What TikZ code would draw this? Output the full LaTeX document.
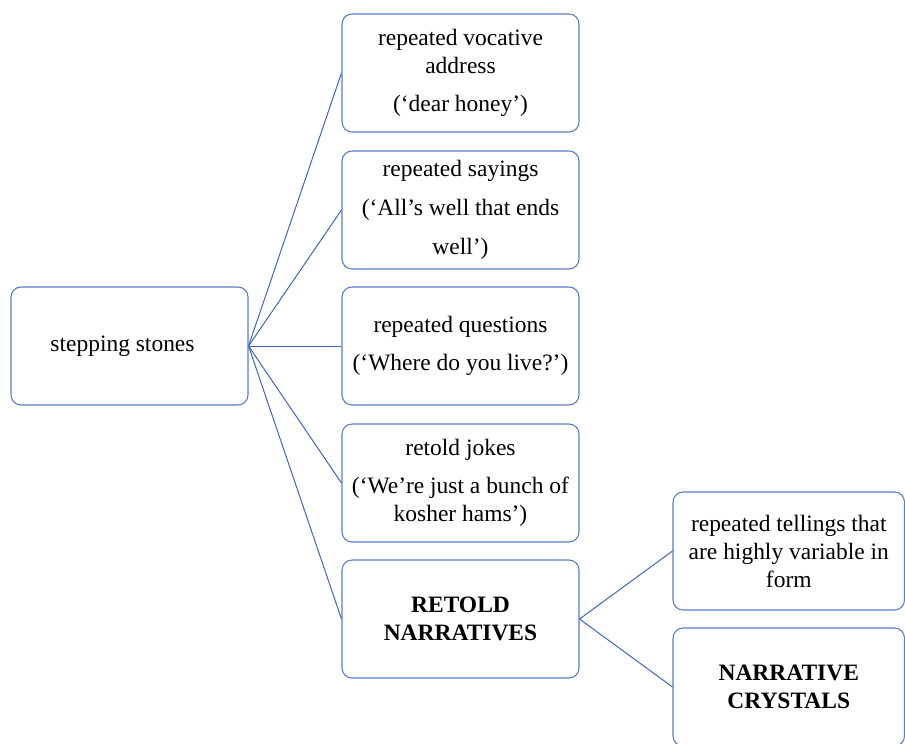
\documentclass[tikz,border=0pt]{standalone}
\usepackage{fontspec}
\setmainfont{Liberation Serif}
\definecolor{boxblue}{HTML}{5A7EC6}
\definecolor{lineblue}{HTML}{3F66B8}
\tikzset{
  box/.style={draw=boxblue, line width=0.8pt, rounded corners=7.5pt,
    minimum width=177.75pt, minimum height=88.5pt, align=center,
    font=\fontsize{17.6}{21}\selectfont, inner sep=0pt},
  rbox/.style={box, minimum width=173.6pt},
  link/.style={draw=lineblue, line width=0.75pt}
}
\begin{document}
\begin{tikzpicture}[x=0.75pt,y=-0.75pt]
\useasboundingbox (0,0) rectangle (905,743);
\clip (0,0) rectangle (905,743);
\node[box] (ss) at (129.5,346) {\raisebox{-3pt}{stepping stones}\hspace*{10.5pt}};
\node[box] (b1) at (460.5,73) {repeated vocative\\address\\[8pt](‘dear honey’)};
\node[box] (b2) at (460.5,210) {repeated sayings\\[8pt](‘All’s well that ends\\[8pt]well’)};
\node[box] (b3) at (460.5,346) {repeated questions\\[8pt](‘Where do you live?’)};
\node[box] (b4) at (460.5,483) {retold jokes\\[8pt](‘We’re just a bunch of\\kosher hams’)};
\node[box] (b5) at (460.5,619) {\textbf{RETOLD}\\\textbf{NARRATIVES}};
\node[rbox] (r1) at (788.75,551) {repeated tellings that\\are highly variable in\\form};
\node[rbox] (r2) at (788.75,687) {\textbf{NARRATIVE}\\\textbf{CRYSTALS}};
\foreach \t in {b1,b2,b3,b4,b5} \draw[link] (ss.east) -- (\t.west);
\draw[link] (b5.east) -- (r1.west);
\draw[link] (b5.east) -- (r2.west);
\end{tikzpicture}
\end{document}
